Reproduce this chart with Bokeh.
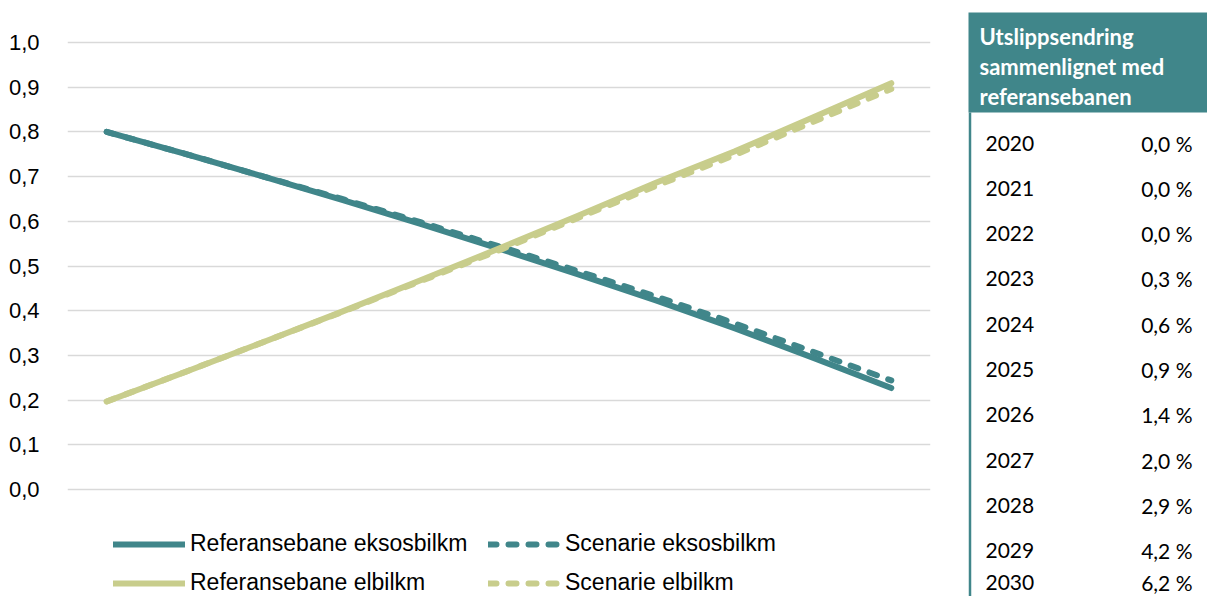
from bokeh.plotting import figure
from bokeh.models import Range1d, FixedTicker, CustomJSTickFormatter, Legend, LegendItem
from bokeh.layouts import row
from bokeh.embed import file_html
from bokeh.resources import INLINE
from bokeh.core.properties import value

# ---- data ----
years = [2020, 2021, 2022, 2023, 2024, 2025, 2026, 2027, 2028, 2029, 2030]
ref_eksos = [0.800, 0.751, 0.700, 0.648, 0.594, 0.539, 0.482, 0.423, 0.361, 0.295, 0.227]
scen_eksos = [0.800, 0.751, 0.700, 0.650, 0.598, 0.544, 0.489, 0.432, 0.372, 0.308, 0.244]
ref_elbil = [0.197, 0.263, 0.330, 0.398, 0.468, 0.539, 0.612, 0.686, 0.756, 0.832, 0.909]
scen_elbil = [0.197, 0.263, 0.330, 0.397, 0.466, 0.535, 0.607, 0.679, 0.748, 0.822, 0.896]
series_names = ["Referansebane eksosbilkm", "Scenarie eksosbilkm",
                "Referansebane elbilkm", "Scenarie elbilkm"]
y_ticks = [0.0, 0.1, 0.2, 0.3, 0.4, 0.5, 0.6, 0.7, 0.8, 0.9, 1.0]

table_title = "Utslippsendring\nsammenlignet med\nreferansebanen"
table_years = ["2020", "2021", "2022", "2023", "2024", "2025", "2026", "2027", "2028", "2029", "2030"]
table_change = [0.0, 0.0, 0.0, 0.3, 0.6, 0.9, 1.4, 2.0, 2.9, 4.2, 6.2]

TEAL = "#40868A"
OLIVE = "#C8CD8C"
FONT = "Liberation Sans"

H = 596
PX_PER_UNIT = 447.0
TOP_VAL = 1.0 + 42 / PX_PER_UNIT

# ---- chart ----
p = figure(width=955, height=H, output_backend="svg", toolbar_location=None,
           title=None, x_axis_location=None,
           x_range=Range1d(2019.5, 2030.5),
           y_range=Range1d(TOP_VAL - H / PX_PER_UNIT, TOP_VAL),
           min_border_left=67, min_border_right=25, min_border_top=0, min_border_bottom=0)
p.outline_line_color = None
p.xgrid.visible = False
p.ygrid.grid_line_color = "#D9D9D9"
p.ygrid.grid_line_width = 1.5
p.yaxis.ticker = FixedTicker(ticks=y_ticks)
p.yaxis.formatter = CustomJSTickFormatter(code="return tick.toFixed(1).replace('.', ',');")
p.yaxis.axis_line_color = None
p.yaxis.major_tick_line_color = None
p.yaxis.minor_tick_line_color = None
p.yaxis.major_label_standoff = 22
p.yaxis.major_label_text_font = FONT
p.yaxis.major_label_text_font_size = "22px"
p.yaxis.major_label_text_color = "#000000"

lw = 6
r1 = p.line(years, ref_eksos, line_color=TEAL, line_width=lw, line_cap="round", line_join="round")
r2 = p.line(years, scen_eksos, line_color=TEAL, line_width=lw, line_dash="8 12", line_cap="round", line_join="round")
r3 = p.line(years, ref_elbil, line_color=OLIVE, line_width=lw, line_cap="round", line_join="round")
r4 = p.line(years, scen_elbil, line_color=OLIVE, line_width=lw, line_dash="8 12", line_cap="round", line_join="round")

# items fill column by column: col 1 = reference series, col 2 = scenario series
legend = Legend(items=[LegendItem(label=series_names[0], renderers=[r1]),
                       LegendItem(label=series_names[2], renderers=[r3]),
                       LegendItem(label=series_names[1], renderers=[r2]),
                       LegendItem(label=series_names[3], renderers=[r4])],
                location=(46, 0), ncols=2,
                glyph_width=72, glyph_height=24, label_height=24, label_width=286,
                label_standoff=5, spacing=12, padding=0, margin=0,
                border_line_color=None, background_fill_alpha=0,
                label_text_font=FONT, label_text_font_size="23px", label_text_color="#000000")
p.add_layout(legend)

# ---- table ----
TW = 252
t = figure(width=TW, height=H, output_backend="svg", toolbar_location=None,
           title=None, x_axis_location=None, y_axis_location=None,
           x_range=Range1d(0, TW), y_range=Range1d(H, 0), min_border=0)
t.outline_line_color = None
t.grid.visible = False
t.quad(left=13, right=TW, top=12, bottom=112, fill_color=TEAL, line_color=None)
t.segment(x0=14.5, y0=112, x1=14.5, y1=H, line_color=TEAL, line_width=2.5)
t.text(x=[24], y=[66], text=[table_title], text_font=value("Lato"), text_font_style="bold",
       text_font_size="22px", text_color="#FFFFFF", text_baseline="middle",
       text_line_height=1.1)

row_top = 142.5
row_step = 45.33
row_y = [row_top + i * row_step for i in range(len(table_years) - 1)] + [582]
change_txt = [("%.1f" % v).replace(".", ",") + " %" for v in table_change]
t.text(x=[30] * len(table_years), y=row_y, text=table_years, text_font=value("Lato"),
       text_font_size="21px", text_color="#000000", text_baseline="middle", text_align="left")
t.text(x=[237] * len(table_years), y=row_y, text=change_txt, text_font=value("Lato"),
       text_font_size="21px", text_color="#000000", text_baseline="middle", text_align="right")

layout = row(p, t)
open("out.html", "w").write(file_html(layout, INLINE))
